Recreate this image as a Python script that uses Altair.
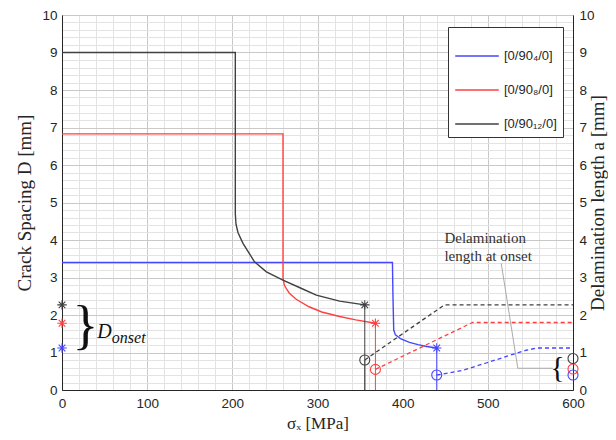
import altair as alt
import pandas as pd

# ---------------- data ----------------
labels = ["[0/90₄/0]", "[0/90₈/0]", "[0/90₁₂/0]"]
colors = ["#4646ff", "#ff4040", "#404040"]
light = ["#8c8cff", "#ff8c8c", "#9a9a9a"]

# crack spacing D vs sigma_x
blue_x = [0, 388, 388.6, 389.5, 391.5, 398, 408, 418, 428, 440]
blue_y = [3.40, 3.40, 2.5, 1.6, 1.47, 1.36, 1.27, 1.21, 1.16, 1.12]
red_x = [0, 259.5, 259.5, 261, 264, 267, 275, 290, 305, 326, 345, 368]
red_y = [6.83, 6.83, 3.0, 2.8, 2.68, 2.58, 2.42, 2.22, 2.08, 1.96, 1.87, 1.78]
black_x = [0, 203.5, 203.5, 204.3, 206.6, 212.5, 226, 240, 259.4, 280, 298.6, 326, 355.5]
black_y = [9.0, 9.0, 4.7, 4.42, 4.2, 3.91, 3.42, 3.15, 2.93, 2.72, 2.53, 2.37, 2.27]

# delamination length a vs sigma_x (dashed)
blue_dx = [440, 470, 498, 525, 545, 558, 600]
blue_dy = [0.40, 0.52, 0.72, 0.92, 1.06, 1.12, 1.12]
red_dx = [368, 482, 600]
red_dy = [0.55, 1.80, 1.80]
black_dx = [355.5, 449, 600]
black_dy = [0.80, 2.27, 2.27]

# onset points
onset_x = [440, 368, 355.5]
onset_D = [1.12, 1.78, 2.27]
onset_a = [0.40, 0.55, 0.80]
end_x = [600, 600, 600]
end_a = [0.40, 0.56, 0.84]
zero_x = [0, 0, 0]

# annotations (data coordinates)
note_x = [449, 449]
note_y = [4.05, 3.57]
note_txt = ["Delamination", "length at onset"]
leader_x = [515.7, 535.2, 576.4]
leader_y = [3.38, 0.58, 0.58]
brace_r_x = [27.5]
brace_r_y = [1.68]
dlabel_x = [41.5]
dlabel_y = [1.55]
sub_x = [58.5]
sub_y = [1.40]
brace_l_x = [581.8]
brace_l_y = [0.60]

x_vals = list(range(0, 601, 20))
y_vals = [round(i * 0.2, 1) for i in range(51)]

# ---------------- frames ----------------
def series_frame(xs, ys, lab):
    return pd.DataFrame({"x": xs, "y": ys, "s": lab, "i": range(len(xs))})

curves = pd.concat([series_frame(blue_x, blue_y, labels[0]),
                    series_frame(red_x, red_y, labels[1]),
                    series_frame(black_x, black_y, labels[2])])
dashed = pd.concat([series_frame(blue_dx, blue_dy, labels[0]),
                    series_frame(red_dx, red_dy, labels[1]),
                    series_frame(black_dx, black_dy, labels[2])])
onset = pd.DataFrame({"x": onset_x, "D": onset_D, "a": onset_a, "s": labels,
                      "x0": zero_x, "xe": end_x, "ae": end_a, "zero": [0, 0, 0]})
leader = pd.DataFrame({"x": leader_x, "y": leader_y, "i": range(3)})
notes = pd.DataFrame({"x": note_x, "y": note_y, "t": note_txt})

xscale = alt.Scale(domain=[0, 600], nice=False, zero=False)
yscale = alt.Scale(domain=[0, 10], nice=False, zero=False)

INT = "abs(datum.value - round(datum.value)) < 0.01"
xaxis = alt.Axis(values=x_vals, labelExpr="datum.value % 100 === 0 ? datum.label : ''",
                 gridColor={"condition": {"test": "datum.value % 100 === 0", "value": "#c9c9c9"},
                            "value": "#e3e3e3"},
                 title="σₓ [MPa]", titleX=255.5, titleY=38, titleBaseline="alphabetic",
                 titleFontSize=17, labelPadding=6, labelFlush=False)
yaxisL = alt.Axis(values=y_vals,
                  labelExpr=f"{INT} ? format(datum.value, 'd') : ''",
                  gridColor={"condition": {"test": INT, "value": "#c9c9c9"}, "value": "#e3e3e3"},
                  title="Crack Spacing D [mm]", titleAngle=270, titleX=-38, titleY=187.5,
                  titleAlign="center", titleBaseline="middle", labelPadding=5, labelFlush=False)
yaxisR = alt.Axis(orient="right", values=list(range(11)), grid=False,
                  title="Delamination length a [mm]", titleAngle=270, titleX=24, titleY=187.5,
                  titleAlign="center", titleBaseline="middle", labelPadding=6, labelFlush=False)

X = lambda f="x": alt.X(f"{f}:Q", scale=xscale, axis=xaxis)
YL = lambda f="y": alt.Y(f"{f}:Q", scale=yscale, axis=yaxisL)
YR = lambda f="y": alt.Y(f"{f}:Q", scale=yscale, axis=yaxisR)

cscale = alt.Scale(domain=labels, range=colors)
lscale = alt.Scale(domain=labels, range=light)

asterisk = "M-1,0L1,0M0,-1L0,1M-0.7,-0.7L0.7,0.7M-0.7,0.7L0.7,-0.7"

lines = alt.Chart(curves).mark_line(strokeWidth=1.4).encode(
    x=X(), y=YL(), order="i:Q",
    color=alt.Color("s:N", scale=cscale, sort=labels,
                    legend=alt.Legend(title=None, orient="none", legendX=386, legendY=12,
                                      symbolType="stroke", symbolSize=1900,
                                      symbolStrokeWidth=1.5, labelFont="Liberation Sans",
                                      labelFontSize=13, labelColor="#262626",
                                      strokeColor="#333333", fillColor="white",
                                      padding=6, labelOffset=4, rowPadding=4)))

vrules = alt.Chart(onset).mark_rule(strokeWidth=1).encode(
    x=X(), y=YL("D"), y2="zero:Q",
    color=alt.Color("s:N", scale=lscale, legend=None))
vdark = alt.Chart(onset[onset["s"] == labels[2]]).mark_rule(strokeWidth=1, color="#555555").encode(
    x=X(), y=YL("a"), y2="zero:Q")

stars_on = alt.Chart(onset).mark_point(shape=asterisk, size=90, filled=False, strokeWidth=1.1, opacity=1).encode(
    x=X(), y=YL("D"), color=alt.Color("s:N", scale=cscale, legend=None))
stars_left = alt.Chart(onset).mark_point(shape=asterisk, size=90, filled=False, strokeWidth=1.1, opacity=1).encode(
    x=X("x0"), y=YL("D"), color=alt.Color("s:N", scale=cscale, legend=None))

lead = alt.Chart(leader).mark_line(color="#aaaaaa", strokeWidth=1).encode(x=X(), y=YL(), order="i:Q")
note_text = alt.Chart(notes).mark_text(align="left", baseline="middle", font="Liberation Serif",
                                       fontSize=15, color="#333333").encode(x=X(), y=YL(), text="t:N")

brace_r = alt.Chart(pd.DataFrame({"x": brace_r_x, "y": brace_r_y, "t": ["}"]})).mark_text(
    baseline="middle", align="center", font="Liberation Serif", fontSize=54, color="#111111").encode(
    x=X(), y=YL(), text="t:N")
dlab = alt.Chart(pd.DataFrame({"x": dlabel_x, "y": dlabel_y, "t": ["D"]})).mark_text(
    baseline="middle", align="left", font="Liberation Serif", fontStyle="italic", fontSize=20,
    color="#111111").encode(x=X(), y=YL(), text="t:N")
dsub = alt.Chart(pd.DataFrame({"x": sub_x, "y": sub_y, "t": ["onset"]})).mark_text(
    baseline="middle", align="left", font="Liberation Serif", fontStyle="italic", fontSize=16,
    color="#111111").encode(x=X(), y=YL(), text="t:N")
brace_l = alt.Chart(pd.DataFrame({"x": brace_l_x, "y": brace_l_y, "t": ["{"]})).mark_text(
    baseline="middle", align="center", font="Liberation Serif", fontSize=30, color="#111111").encode(
    x=X(), y=YL(), text="t:N")

left = alt.layer(lines, vrules, vdark, lead, stars_on, stars_left, note_text, brace_r, dlab, dsub, brace_l)

dash = alt.Chart(dashed).mark_line(strokeWidth=1.3, strokeDash=[4, 3]).encode(
    x=X(), y=YR(), order="i:Q", color=alt.Color("s:N", scale=cscale, legend=None))
circ_on = alt.Chart(onset).mark_point(shape="circle", size=100, filled=False, strokeWidth=1.1, opacity=1).encode(
    x=X(), y=YR("a"), color=alt.Color("s:N", scale=cscale, legend=None))
circ_end = alt.Chart(onset).mark_point(shape="circle", size=100, filled=False, strokeWidth=1.1, opacity=1).encode(
    x=X("xe"), y=YR("ae"), color=alt.Color("s:N", scale=cscale, legend=None))

right = alt.layer(dash, circ_on, circ_end)

chart = alt.layer(left, right).resolve_scale(y="independent").properties(
    width=511, height=375,
    padding={"left": 54, "top": 7, "right": 35, "bottom": 42},
    autosize=alt.AutoSizeParams(type="none"),
    background="white",
).configure_view(stroke="#262626", strokeWidth=1).configure_axis(
    domainColor="#262626", ticks=False, labelFont="Liberation Sans", labelFontSize=13.5,
    labelColor="#262626", titleFont="Liberation Serif", titleFontSize=19,
    titleFontWeight="normal", titleColor="#262626", gridWidth=1)

chart.save("out.html", embed_options={"renderer": "svg", "actions": False})
